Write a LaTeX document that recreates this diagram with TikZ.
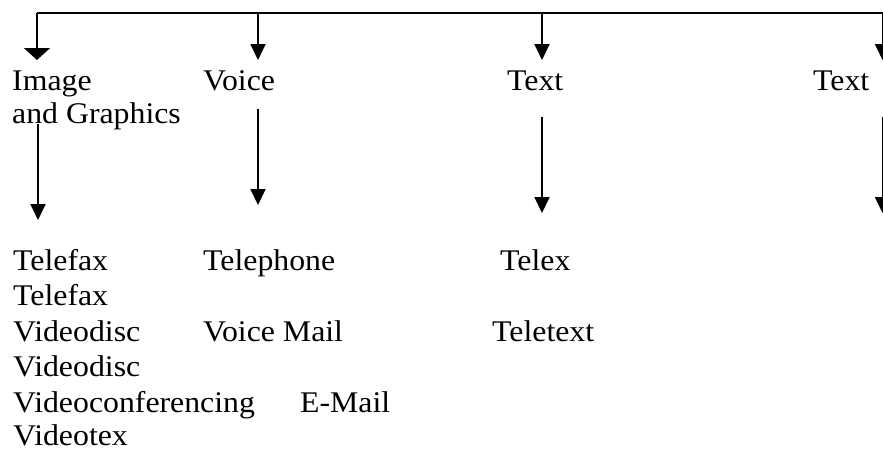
\documentclass[tikz,border=0pt]{standalone}
\usepackage{fontspec}
\setmainfont{Liberation Serif}[FakeStretch=1.06]
\usetikzlibrary{arrows.meta}

\begin{document}
\begin{tikzpicture}[
      x=1pt, y=-1pt,
      lbl/.style={anchor=base west, inner sep=0pt, font=\fontsize{30}{36}\selectfont},
      line/.style={line width=1.8pt},
      arrow/.style={line, -{Triangle[width=15pt,length=16pt]}},
      widearrow/.style={line, -{Triangle[width=26pt,length=12pt]}}
    ]
    \useasboundingbox (0,0) rectangle (883,451);

    % ============ MEDIA TYPES ============
    \node[lbl] (img) at (12,90) {Image};
    \node[lbl] (imgb) at (12,123) {and Graphics};
    \node[lbl] (voice) at (203,90) {Voice};
    \node[lbl] (text) at (507,90) {Text};
    \node[lbl] (textb) at (813,90) {Text};

    % ============ BUS ============
    \coordinate (busl) at (37,13);
    \coordinate (busr) at (884,13);
    \coordinate (imgin) at (37,60);
    \coordinate (voicein) at (258,60);
    \coordinate (textin) at (542,60);
    \coordinate (textbin) at (882.5,60);

    \draw[line] (busl) -- (busr);
    \draw[widearrow] (busl) -- (imgin);
    \draw[arrow] (voicein |- busl) -- (voicein);
    \draw[arrow] (textin |- busl) -- (textin);
    \draw[arrow] (textbin |- busl) -- (textbin);

    % ============ DROPS TO SERVICES ============
    \coordinate (imgout) at (38,124);
    \coordinate (imgend) at (38,220);
    \coordinate (voiceout) at (258,109);
    \coordinate (voiceend) at (258,205);
    \coordinate (textout) at (542,117);
    \coordinate (textend) at (542,213);
    \coordinate (textbout) at (882.5,117);
    \coordinate (textbend) at (882.5,213);

    \draw[arrow] (imgout) -- (imgend);
    \draw[arrow] (voiceout) -- (voiceend);
    \draw[arrow] (textout) -- (textend);
    \draw[arrow] (textbout) -- (textbend);

    % ============ SERVICES ============
    \node[lbl] (telefax) at (13,270) {Telefax};
    \node[lbl] (telephone) at (203,270) {Telephone};
    \node[lbl] (telex) at (500,270) {Telex};
    \node[lbl] (telefaxb) at (13,305) {Telefax};
    \node[lbl] (videodisc) at (13,341) {Videodisc};
    \node[lbl] (voicemail) at (203,341) {Voice Mail};
    \node[lbl] (teletext) at (492,341) {Teletext};
    \node[lbl] (videodiscb) at (13,376) {Videodisc};
    \node[lbl] (videoconf) at (13,412) {Videoconferencing};
    \node[lbl] (email) at (300,412) {E-Mail};
    \node[lbl] (videotex) at (13,445) {Videotex};

  \end{tikzpicture}
\end{document}
